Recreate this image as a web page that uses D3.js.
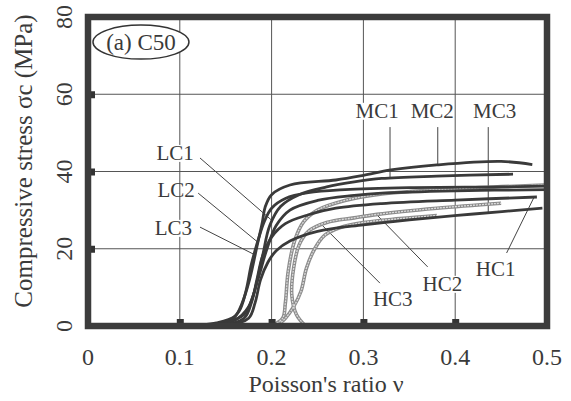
<!DOCTYPE html>
<html>
<head>
<meta charset="utf-8">
<script src="https://cdn.jsdelivr.net/npm/d3@7"></script>
<style>
    body { margin: 0; background: #fff; }
    text { font-family: "Liberation Serif", "Times New Roman", serif; fill: #3a3a3a; }
</style>
</head>
<body>
<div id="wrapper"></div>
<script>
// axis ticks
const xTicks = [0, 0.1, 0.2, 0.3, 0.4, 0.5]
const yTicks = [0, 20, 40, 60, 80]

// curves: [poisson ratio, stress MPa]
const MC2 = [[0.10, 0], [0.14, 0.8], [0.16, 2.5], [0.168, 6], [0.176, 12], [0.184, 20.5], [0.19, 27], [0.193, 30.8], [0.2, 34], [0.22, 36.5], [0.27, 37.8], [0.30, 39], [0.33, 40.4], [0.38, 41.7], [0.45, 42.6], [0.484, 41.8]]
const MC1 = [[0.12, 0], [0.15, 1], [0.17, 3], [0.18, 8], [0.19, 18], [0.198, 26], [0.21, 31], [0.23, 34], [0.26, 36], [0.29, 37.3], [0.32, 38.2], [0.38, 38.8], [0.463, 39.3]]
const MC3 = [[0.13, 0], [0.155, 1.5], [0.165, 4], [0.172, 9], [0.178, 16], [0.185, 22], [0.192, 27], [0.2, 30.5], [0.215, 33], [0.24, 34.5], [0.28, 35.3], [0.35, 35.8], [0.45, 36], [0.5, 36.2]]
const LC1 = [[0.13, 0], [0.16, 1.5], [0.175, 5], [0.185, 12], [0.195, 20], [0.205, 26], [0.22, 30], [0.25, 32.5], [0.29, 33.8], [0.32, 34.4], [0.4, 35], [0.5, 35.3]]
const LC2 = [[0.14, 0], [0.17, 2], [0.178, 6], [0.184, 12], [0.19, 18], [0.2, 23], [0.215, 26.5], [0.24, 28.8], [0.27, 30.5], [0.32, 31.7], [0.4, 32.6], [0.489, 33.4]]
const LC3 = [[0.15, 0], [0.175, 2], [0.182, 6], [0.188, 12], [0.196, 16.5], [0.205, 19.5], [0.22, 22], [0.25, 24.5], [0.3, 26.2], [0.35, 27.5], [0.42, 29], [0.495, 30.5]]
const HC1 = [[0.20, 0], [0.212, 2], [0.215, 6], [0.218, 14], [0.225, 22], [0.235, 27], [0.25, 30], [0.28, 32.5], [0.32, 34.2], [0.4, 35.5], [0.497, 36.5]]
const HC2 = [[0.237, 0], [0.227, 3], [0.222, 8], [0.224, 15], [0.23, 21], [0.24, 24.5], [0.26, 26.8], [0.29, 28], [0.315, 28.9], [0.38, 30.5], [0.45, 31.8]]
const HC3 = [[0.205, 0], [0.215, 2], [0.224, 5], [0.232, 9], [0.238, 15], [0.247, 20], [0.258, 23.5], [0.275, 25.5], [0.3, 26.8], [0.34, 27.8], [0.38, 28.6]]

const darkSeries = [MC2, MC1, MC3, LC1, LC2, LC3]
const graySeries = [HC1, HC2, HC3]

// curve labels: text, text anchor point, leader start, leader end (data units)
const labelNames = ['LC1', 'LC2', 'LC3', 'MC1', 'MC2', 'MC3', 'HC1', 'HC2', 'HC3']
const labelPos = [[0.095, 43], [0.096, 33.4], [0.093, 23.6], [0.315, 53.9], [0.375, 53.9], [0.443, 53.9], [0.444, 12.9], [0.386, 9.1], [0.332, 5.2]]
const leaderFrom = [[0.122, 43.5], [0.12, 34.4], [0.122, 25.6], [0.329, 51.5], [0.381, 51.5], [0.436, 51.5], [0.456, 18.9], [0.370, 15.3], [0.318, 11.1]]
const leaderTo = [[0.2, 27.4], [0.185, 21.7], [0.182, 18.4], [0.329, 38.3], [0.381, 41.7], [0.436, 29.3], [0.486, 33.4], [0.315, 28.7], [0.255, 26.1]]
const maskedLabels = ['LC1', 'LC3', 'MC1', 'HC2']

async function drawChart() {
    let dimensions = {
        width: 571,
        height: 401,
        margin: {
            top: 17,
            right: 24,
            bottom: 75,
            left: 88
        }
    }
    dimensions.boundedWidth = dimensions.width - dimensions.margin.left - dimensions.margin.right
    dimensions.boundedHeight = dimensions.height - dimensions.margin.top - dimensions.margin.bottom

    const wrapper = d3.select('#wrapper')
        .append('svg')
        .attr('width', dimensions.width)
        .attr('height', dimensions.height)

    const bounds = wrapper.append('g')
        .attr('transform', `translate(${dimensions.margin.left}, ${dimensions.margin.top})`)

    const xScale = d3.scaleLinear()
        .domain([0, 0.5])
        .range([0, dimensions.boundedWidth])
    const yScale = d3.scaleLinear()
        .domain([0, 80])
        .range([dimensions.boundedHeight, 0])

    // grid
    bounds.selectAll('.vgrid')
        .data(xTicks.slice(1, -1))
        .join('line')
        .attr('x1', d => xScale(d)).attr('x2', d => xScale(d))
        .attr('y1', 0).attr('y2', dimensions.boundedHeight)
        .attr('stroke', '#555').attr('stroke-width', 1)
    bounds.selectAll('.hgrid')
        .data(yTicks.slice(1, -1))
        .join('line')
        .attr('y1', d => yScale(d)).attr('y2', d => yScale(d))
        .attr('x1', 0).attr('x2', dimensions.boundedWidth)
        .attr('stroke', '#555').attr('stroke-width', 1)

    // label masks (white boxes that hide grid behind some labels)
    const labels = labelNames.map((name, i) => ({name, pos: labelPos[i], from: leaderFrom[i], to: leaderTo[i]}))
    bounds.selectAll('.label-mask')
        .data(labels.filter(d => maskedLabels.includes(d.name)))
        .join('rect')
        .attr('x', d => xScale(d.pos[0]) - 22)
        .attr('y', d => yScale(d.pos[1]) - 15)
        .attr('width', 44)
        .attr('height', 17)
        .attr('fill', '#fff')

    // leaders
    bounds.selectAll('.leader')
        .data(labels)
        .join('line')
        .attr('x1', d => xScale(d.from[0])).attr('y1', d => yScale(d.from[1]))
        .attr('x2', d => xScale(d.to[0])).attr('y2', d => yScale(d.to[1]))
        .attr('stroke', '#444').attr('stroke-width', 1)

    const lineGenerator = d3.line()
        .x(d => xScale(d[0]))
        .y(d => yScale(d[1]))
        .curve(d3.curveCatmullRom)

    // gray textured curves
    bounds.selectAll('.gray-outer')
        .data(graySeries)
        .join('path')
        .attr('d', lineGenerator)
        .attr('fill', 'none')
        .attr('stroke', '#8c8c8c')
        .attr('stroke-width', 3.6)
    bounds.selectAll('.gray-inner')
        .data(graySeries)
        .join('path')
        .attr('d', lineGenerator)
        .attr('fill', 'none')
        .attr('stroke', '#dcdcdc')
        .attr('stroke-width', 1.3)
        .attr('stroke-dasharray', '2 1')

    // dark curves
    bounds.selectAll('.dark')
        .data(darkSeries)
        .join('path')
        .attr('d', lineGenerator)
        .attr('fill', 'none')
        .attr('stroke', '#3a3a3a')
        .attr('stroke-width', 2.8)
        .attr('stroke-linejoin', 'round')

    // labels
    bounds.selectAll('.curve-label')
        .data(labels)
        .join('text')
        .attr('x', d => xScale(d.pos[0]))
        .attr('y', d => yScale(d.pos[1]))
        .attr('text-anchor', 'middle')
        .style('font-size', '21px')
        .text(d => d.name)

    // small tick squares
    bounds.selectAll('.xtick')
        .data(xTicks.slice(1, -1))
        .join('rect')
        .attr('x', d => xScale(d) - 3)
        .attr('y', dimensions.boundedHeight - 7)
        .attr('width', 7).attr('height', 5)
        .attr('fill', '#333')
    bounds.selectAll('.ytick')
        .data(yTicks.slice(1, -1))
        .join('rect')
        .attr('x', 2)
        .attr('y', d => yScale(d) - 3)
        .attr('width', 5).attr('height', 7)
        .attr('fill', '#333')

    // frame
    bounds.append('rect')
        .attr('width', dimensions.boundedWidth)
        .attr('height', dimensions.boundedHeight)
        .attr('fill', 'none')
        .attr('stroke', '#3c3c3c')
        .attr('stroke-width', 6.5)

    // (a) C50 badge
    bounds.append('ellipse')
        .attr('cx', xScale(0.0577)).attr('cy', yScale(73.5))
        .attr('rx', 48).attr('ry', 17)
        .attr('fill', '#fff').attr('stroke', '#333').attr('stroke-width', 1.5)
    bounds.append('text')
        .attr('x', xScale(0.0577)).attr('y', yScale(73.5) + 8)
        .attr('text-anchor', 'middle')
        .style('font-size', '23px')
        .text('(a) C50')

    // axis tick labels
    bounds.selectAll('.xlabel')
        .data(xTicks)
        .join('text')
        .attr('x', d => xScale(d))
        .attr('y', dimensions.boundedHeight + 39)
        .attr('text-anchor', 'middle')
        .style('font-size', '24px')
        .text(d => d3.format('')(d))
    bounds.selectAll('.ylabel')
        .data(yTicks)
        .join('text')
        .attr('transform', d => `translate(-16, ${yScale(d)}) rotate(-90)`)
        .attr('text-anchor', 'middle')
        .style('font-size', '24px')
        .text(d => d)

    // axis titles
    bounds.append('text')
        .attr('x', 238)
        .attr('y', dimensions.boundedHeight + 66)
        .attr('text-anchor', 'middle')
        .style('font-size', '24px')
        .text("Poisson's ratio \u03bd")
    bounds.append('text')
        .attr('transform', `translate(-56, ${144}) rotate(-90)`)
        .attr('text-anchor', 'middle')
        .style('font-size', '25px')
        .text('Compressive stress \u03c3c (MPa)')
}

drawChart()
</script>
</body>
</html>
